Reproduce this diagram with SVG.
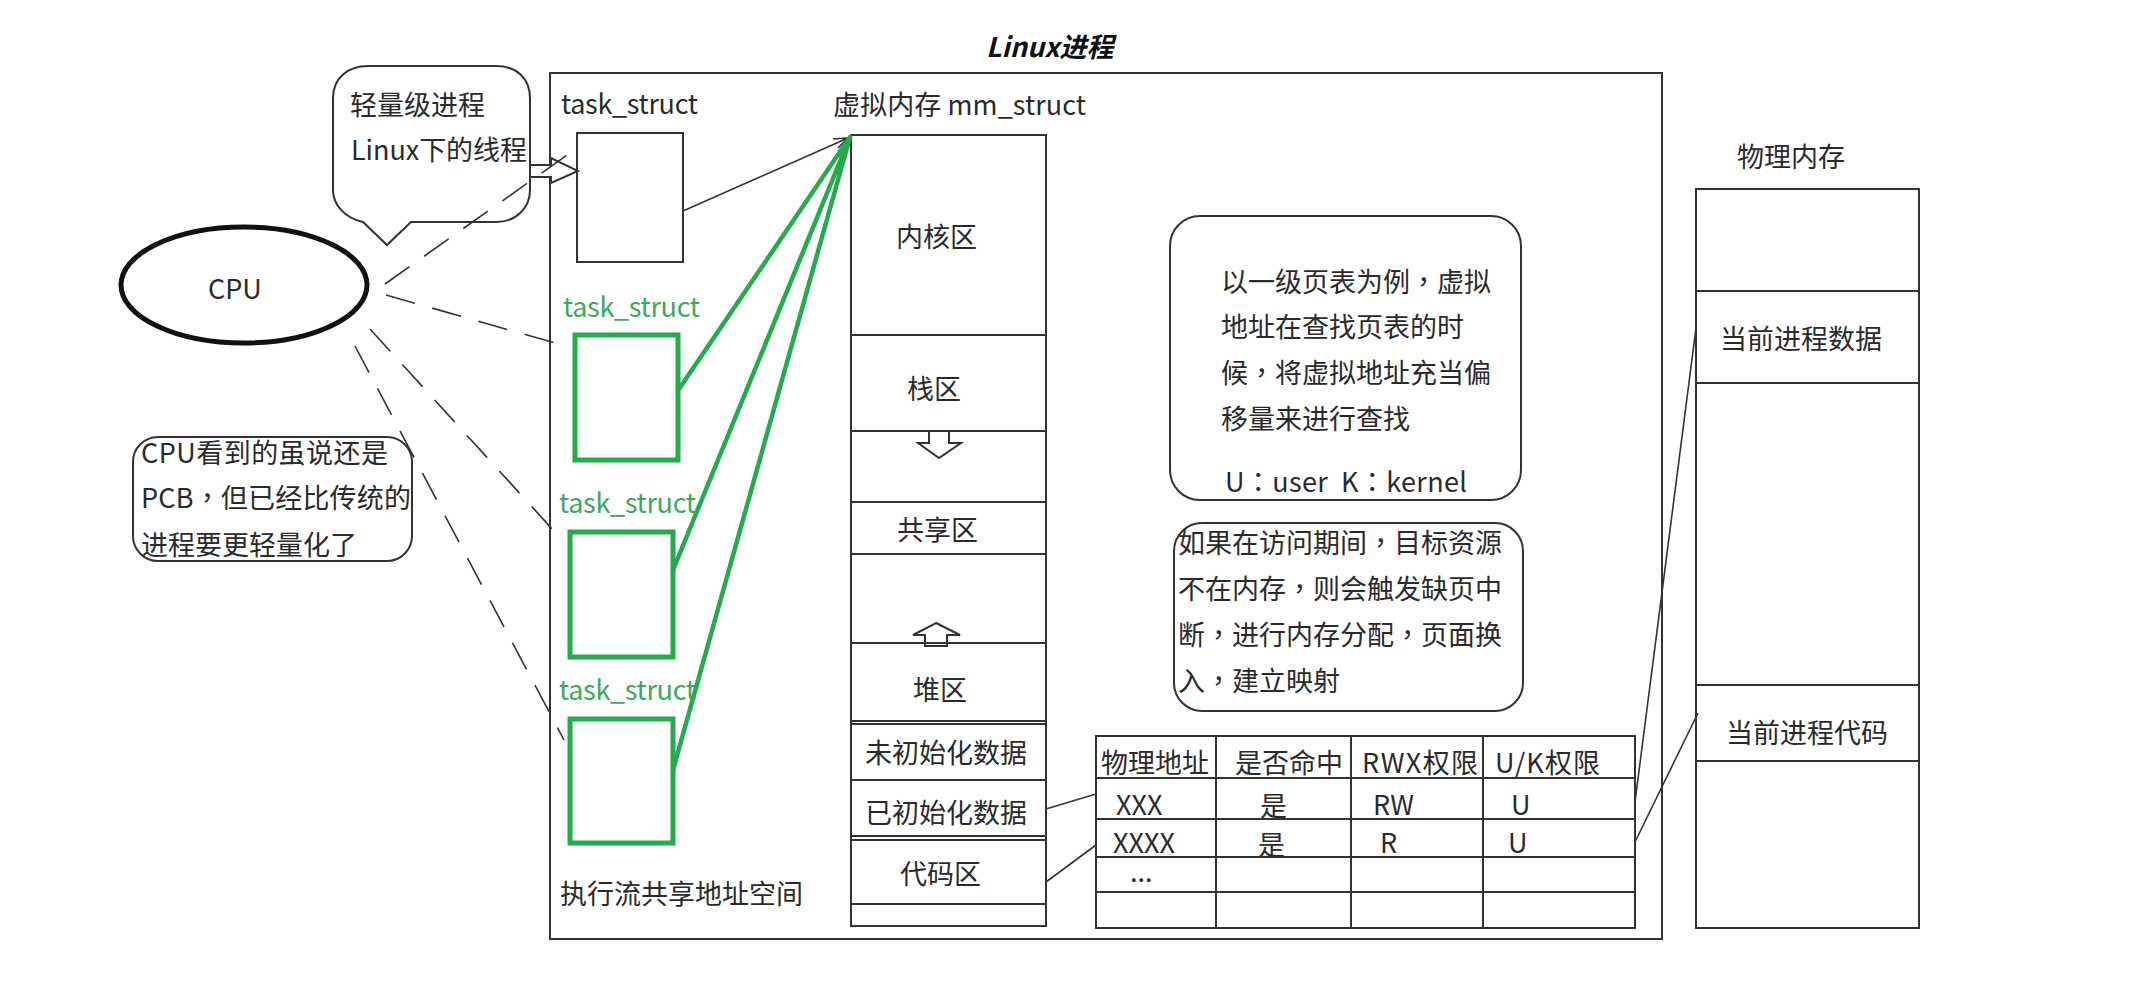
<svg xmlns="http://www.w3.org/2000/svg" width="2149" height="982" viewBox="0 0 2149 982">
<style>
text{font-family:"Noto Sans CJK SC","Noto Sans",sans-serif;font-size:27px;fill:#2a2a2a}
.p{font-family:"Noto Sans CJK TC","Noto Sans",sans-serif}
.b{fill:none;stroke:#333;stroke-width:2}
.w{fill:#fff;stroke:#333;stroke-width:2}
.g{fill:none;stroke:#22ac4c;stroke-width:5}
.gl{stroke:#22ac4c;stroke-width:4.5;stroke-linecap:round;fill:none}
.d{stroke:#333;stroke-width:1.6;fill:none;stroke-dasharray:30 18}
.t{stroke:#333;stroke-width:1.6;fill:none}
.gt{fill:#3aaa5c}
.title{font-size:27px;font-weight:700;font-style:italic;fill:#111}
</style>
<rect width="2149" height="982" fill="#fff"/>
<text class="title" x="986" y="57" id="title">Linux进程</text>
<g id="process-box"><rect class="b" x="550" y="73" width="1112" height="866"/></g>
<g id="bubble-lwp">
<path class="w" d="M363 222 C345 218 333 205 333 190 V98 C333 78 348 66 368 66 H496 C516 66 530 78 530 98 V190 C530 208 516 222 496 222 H411 L387 245 Z"/>
<text x="350" y="115">轻量级进程</text>
<text x="351" y="160" textLength="176">Linux下的线程</text>
</g>
<g id="cpu">
<ellipse cx="244" cy="285" rx="123" ry="58" fill="#fff" stroke="#111" stroke-width="5"/>
<text x="208" y="299">CPU</text>
</g>
<g id="bubble-pcb">
<rect class="w" x="133" y="437" width="279" height="124" rx="25"/>
<text x="141" y="463" textLength="247">CPU看到的虽说还是</text>
<text x="141" y="508" textLength="270">PCB<tspan class="p">，</tspan>但已经比传统的</text>
<text x="141" y="555">进程要更轻量化了</text>
</g>
<g id="task-1">
<text x="561" y="114" textLength="137">task_struct</text>
<rect class="b" x="577" y="133" width="106" height="129"/>
</g>
<g id="task-2">
<text class="gt" x="563" y="317" textLength="137">task_struct</text>
<rect class="g" x="575" y="335" width="103" height="125"/>
</g>
<g id="task-3">
<text class="gt" x="559" y="513" textLength="137">task_struct</text>
<rect class="g" x="570" y="532" width="103" height="125"/>
</g>
<g id="task-4">
<text class="gt" x="559" y="700" textLength="137">task_struct</text>
<rect class="g" x="570" y="719" width="103" height="124"/>
</g>
<text x="560" y="904" id="shared-label">执行流共享地址空间</text>
<g id="virtual-memory">
<text x="833" y="115" textLength="253">虚拟内存 mm_struct</text>
<rect class="b" x="851" y="135" width="195" height="791"/>
<path class="b" d="M851 335H1046M851 431H1046M851 502H1046M851 554H1046M851 721H1046M851 724H1046M851 780H1046M851 836H1046M851 840H1046M851 904H1046"/>
<text x="896" y="247">内核区</text>
<text x="907" y="399">栈区</text>
<text x="897" y="540">共享区</text>
<text x="913" y="700">堆区</text>
<text x="865" y="763">未初始化数据</text>
<text x="865" y="823">已初始化数据</text>
<text x="900" y="884">代码区</text>
<path class="w" d="M929 431H949V443H961L939 458L918 443H929Z"/>
<path class="w" d="M936 623L960 635H947V646H925V635H913Z"/>
<path class="b" d="M851 643H1046"/>
</g>
<g id="note-paging">
<rect class="w" x="1170" y="216" width="351" height="284" rx="30"/>
<text x="1221" y="292">以一级页表为例<tspan class="p">，</tspan>虚拟</text>
<text x="1221" y="337">地址在查找页表的时</text>
<text x="1221" y="383">候<tspan class="p">，</tspan>将虚拟地址充当偏</text>
<text x="1221" y="429">移量来进行查找</text>
<text x="1225" y="492" textLength="242" xml:space="preserve">U<tspan class="p">：</tspan>user  K<tspan class="p">：</tspan>kernel</text>
</g>
<g id="note-fault">
<rect class="w" x="1174" y="523" width="349" height="188" rx="28"/>
<text x="1178" y="553">如果在访问期间<tspan class="p">，</tspan>目标资源</text>
<text x="1178" y="599">不在内存<tspan class="p">，</tspan>则会触发缺页中</text>
<text x="1178" y="645">断<tspan class="p">，</tspan>进行内存分配<tspan class="p">，</tspan>页面换</text>
<text x="1178" y="691">入<tspan class="p">，</tspan>建立映射</text>
</g>
<g id="page-table">
<rect class="b" x="1096" y="736" width="539" height="192"/>
<path class="b" d="M1216 736V928M1351 736V928M1483 736V928M1096 778H1635M1096 819H1635M1096 857H1635M1096 892H1635"/>
<text x="1101" y="773">物理地址</text>
<text x="1235" y="773">是否命中</text>
<text x="1362" y="773" textLength="116">RWX权限</text>
<text x="1495" y="773" textLength="105">U/K权限</text>
<text x="1116" y="815">XXX</text>
<text x="1260" y="816">是</text>
<text x="1373" y="815">RW</text>
<text x="1511" y="815">U</text>
<text x="1113" y="853">XXXX</text>
<text x="1258" y="855">是</text>
<text x="1380" y="853">R</text>
<text x="1508" y="853">U</text>
<text x="1130" y="882">...</text>
</g>
<g id="physical-memory">
<text x="1737" y="167">物理内存</text>
<rect class="b" x="1696" y="189" width="223" height="739"/>
<path class="b" d="M1696 291H1919M1696 383H1919M1696 685H1919M1696 761H1919"/>
<text x="1720" y="349">当前进程数据</text>
<text x="1726" y="743">当前进程代码</text>
</g>
<g id="connectors">
<path class="w" d="M530 165H551V158L578 171L551 183V177H530Z"/>
<path class="d" d="M385 284L570 153"/>
<path class="d" d="M386 295L555 343" stroke-dasharray="26 14"/>
<path class="d" d="M370 329L554 531"/>
<path class="d" d="M355 346L564 740"/>
<path class="t" d="M683 211L848 138M833 139L848 138L838 148"/>
<path class="gl" d="M679 389L850 137M673 570L850 137M673 770L850 137"/>
<path class="t" d="M1046 809L1096 794M1046 882L1096 845M1635 802L1696 328M1635 842L1698 713"/>
</g>
</svg>
